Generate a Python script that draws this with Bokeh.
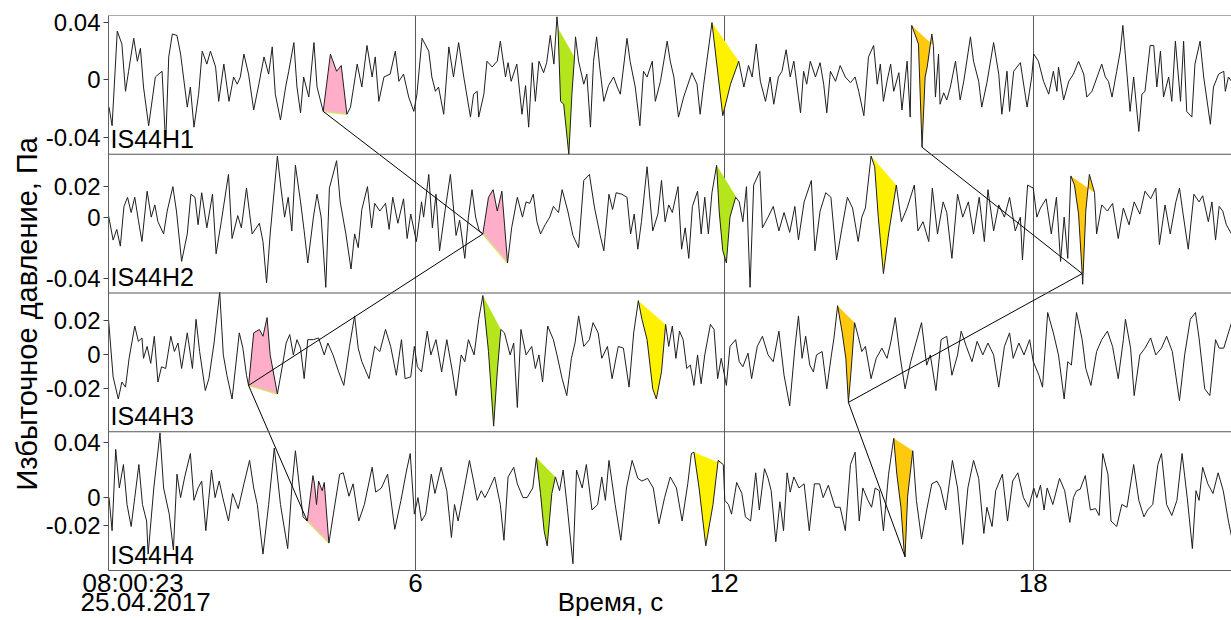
import numpy as np
from bokeh.plotting import figure
from bokeh.models import Range1d, FixedTicker, Span, Label, Title
from bokeh.embed import file_html
from bokeh.resources import INLINE

FONT = "Liberation Sans"

STATIONS = ["IS44H1", "IS44H2", "IS44H3", "IS44H4"]

# ---- overpressure records: time (s after 08:00:23) and value (mPa) ----
T1 = [0.05, 0.11, 0.21, 0.30, 0.37, 0.43, 0.53, 0.60, 0.66, 0.72, 0.82, 0.95, 1.08, 1.15, 1.21, 1.28, 1.37, 1.44,
      1.57, 1.63, 1.70, 1.79, 1.86, 1.95, 2.02, 2.12, 2.18, 2.28, 2.38, 2.47, 2.54, 2.60, 2.67, 2.76, 2.86, 2.96,
      3.06, 3.15, 3.22, 3.28, 3.38, 3.48, 3.54, 3.64, 3.70, 3.77, 3.83, 3.93, 4.03, 4.09, 4.21, 4.35, 4.47, 4.56,
      4.67, 4.74, 4.87, 4.96, 5.06, 5.16, 5.22, 5.29, 5.39, 5.51, 5.61, 5.68, 5.77, 5.87, 5.97, 6.03, 6.13, 6.26,
      6.32, 6.39, 6.45, 6.55, 6.65, 6.74, 6.84, 6.94, 7.07, 7.13, 7.20, 7.23, 7.33, 7.39, 7.49, 7.59, 7.65, 7.75,
      7.80, 7.86, 7.97, 8.07, 8.14, 8.20, 8.27, 8.33, 8.40, 8.49, 8.55, 8.62, 8.69, 8.75, 8.77, 8.82, 8.88, 8.98,
      9.04, 9.09, 9.11, 9.17, 9.27, 9.33, 9.40, 9.46, 9.52, 9.58, 9.66, 9.75, 9.85, 9.92, 9.98, 10.11, 10.17,
      10.27, 10.36, 10.43, 10.50, 10.60, 10.66, 10.76, 10.89, 10.95, 11.02, 11.11, 11.21, 11.37, 11.47, 11.53,
      11.60, 11.66, 11.76, 11.97, 12.12, 12.28, 12.38, 12.47, 12.54, 12.62, 12.70, 12.80, 12.89, 12.96, 13.05,
      13.12, 13.20, 13.28, 13.35, 13.48, 13.54, 13.60, 13.67, 13.77, 13.86, 13.93, 13.99, 14.06, 14.16, 14.25,
      14.35, 14.45, 14.54, 14.61, 14.71, 14.80, 14.90, 14.97, 15.03, 15.09, 15.16, 15.23, 15.29, 15.39, 15.45,
      15.55, 15.61, 15.64, 15.77, 15.84, 15.90, 15.94, 16.03, 16.06, 16.10, 16.16, 16.19, 16.26, 16.32, 16.39,
      16.49, 16.58, 16.65, 16.78, 16.84, 16.94, 17.00, 17.10, 17.23, 17.33, 17.39, 17.49, 17.54, 17.62, 17.75,
      17.88, 17.97, 18.01, 18.10, 18.20, 18.30, 18.39, 18.46, 18.49, 18.59, 18.69, 18.78, 18.88, 18.98, 19.04,
      19.14, 19.24, 19.33, 19.40, 19.46, 19.53, 19.62, 19.69, 19.74, 19.82, 19.88, 19.95, 20.05, 20.11, 20.17,
      20.27, 20.34, 20.40, 20.47, 20.53, 20.63, 20.69, 20.76, 20.86, 20.92, 20.98, 21.08, 21.14, 21.24, 21.31,
      21.44, 21.50, 21.60, 21.70, 21.73, 21.79, 21.85]
V1 = [-19, -32, 34, 25, -8, 6, 29, 13, 22, -5, -32, 2, 6, -45, 16, 32, 31, 18,
      -19, -5, -33, -10, 20, 11, 20, 9, -15, 11, -15, 2, -3, 2, 18, 4, -21, -3,
      16, 4, 23, -10, -28, -5, 6, 26, -5, -23, 2, -12, 26, -5, -22, 18, 6, 10,
      -24, -19, 11, -5, 24, 2, 16, -15, 2, 4, 20, -1, 4, -12, -22, -10, 29, 20,
      2, -8, -5, -24, 23, 2, 26, 2, -26, -10, -8, -26, -10, 13, 9, 13, 27, 2,
      12, -1, 11, -24, -4, -33, 12, -15, 13, 5, 12, 31, 11, 44, 36, -15, -17, -52,
      -10, 16, 30, 13, -3, 4, -33, 13, 30, 9, -15, -4, 2, -5, -10, 29, 13,
      -5, -32, 6, 2, 13, -15, -1, 27, 13, 2, -26, -12, 5, -3, -24,
      -3, 13, 40, -25, -3, 13, -5, 10, 2, 25, -1, -15, 2, -17, 2,
      6, 21, 2, 13, -23, 6, -3, 13, 2, 12, -3, -23, 6, -1, 10,
      2, -2, 2, -8, -25, 16, 24, -3, 11, -15, -1, 11, -8, 5, -21,
      13, -26, 38, 25, -47, 2, 9, 32, 24, -12, 18, -17, -9, -14, -5,
      13, -14, -1, 30, 13, -1, -19, -2, 26, 4, -24, 6, -22, 6, 12,
      -19, 2, 18, 13, -1, -10, 6, -8, 9, -14, -1, 4, 13, 4, -12,
      -8, 2, 11, 2, -1, -12, 6, 20, 38, 4, -22, 2, -36, -10, -8,
      24, 24, -5, 20, -12, 2, -15, 27, -15, 27, -22, -26, 11, 27, 2,
      -31, -5, 4, 6, -8, 2, -1]

T2 = [0.04, 0.13, 0.20, 0.27, 0.34, 0.41, 0.48, 0.55, 0.62, 0.69, 0.79, 0.87, 0.94, 1.00, 1.11, 1.18, 1.29, 1.36,
      1.46, 1.57, 1.64, 1.72, 1.78, 1.85, 1.95, 2.06, 2.13, 2.23, 2.37, 2.44, 2.55, 2.62, 2.72, 2.83, 2.97, 3.04,
      3.11, 3.18, 3.32, 3.39, 3.46, 3.53, 3.60, 3.67, 3.77, 3.84, 3.91, 4.02, 4.09, 4.17, 4.26, 4.33, 4.47, 4.54,
      4.65, 4.75, 4.82, 4.89, 4.96, 5.07, 5.15, 5.21, 5.31, 5.42, 5.49, 5.56, 5.66, 5.77, 5.84, 5.91, 6.02, 6.12,
      6.16, 6.26, 6.33, 6.40, 6.47, 6.58, 6.68, 6.79, 6.86, 6.96, 7.03, 7.10, 7.17, 7.24, 7.31, 7.42, 7.51, 7.59,
      7.68, 7.79, 7.87, 7.98, 8.08, 8.15, 8.22, 8.29, 8.36, 8.43, 8.52, 8.61, 8.68, 8.78, 8.85, 8.96, 9.06, 9.17,
      9.27, 9.38, 9.48, 9.59, 9.66, 9.76, 9.83, 9.90, 10.01, 10.11, 10.18, 10.25, 10.32, 10.39, 10.50, 10.61,
      10.71, 10.78, 10.85, 10.92, 10.99, 11.10, 11.17, 11.24, 11.31, 11.38, 11.48, 11.55, 11.62, 11.69, 11.76,
      11.85, 11.90, 11.97, 12.04, 12.11, 12.22, 12.29, 12.36, 12.43, 12.50, 12.57, 12.69, 12.74, 12.85, 12.95,
      13.06, 13.16, 13.27, 13.37, 13.44, 13.55, 13.69, 13.76, 13.86, 13.97, 14.07, 14.18, 14.28, 14.39, 14.49,
      14.60, 14.67, 14.74, 14.85, 14.92, 14.99, 15.09, 15.19, 15.34, 15.44, 15.55, 15.69, 15.76, 15.86, 15.97,
      16.04, 16.14, 16.25, 16.32, 16.42, 16.53, 16.63, 16.74, 16.84, 16.95, 17.05, 17.12, 17.23, 17.33, 17.44,
      17.54, 17.65, 17.75, 17.79, 17.89, 18.00, 18.07, 18.14, 18.25, 18.35, 18.45, 18.53, 18.60, 18.67, 18.73,
      18.80, 18.88, 18.95, 18.96, 19.02, 19.09, 19.19, 19.23, 19.33, 19.44, 19.54, 19.65, 19.75, 19.86, 19.96,
      20.07, 20.17, 20.28, 20.38, 20.45, 20.56, 20.66, 20.77, 20.84, 20.91, 21.01, 21.12, 21.22, 21.29, 21.40,
      21.47, 21.54, 21.61, 21.68, 21.75, 21.85]
V2 = [1, -15, -8, -19, 7, 13, 3, 13, -2, -16, 17, 0, 8, -3, -11, 4, 20, 4,
      -29, -11, 15, 13, -5, 16, -7, 15, -24, -3, 28, -14, 1, -7, 19, -11, -4, -16,
      -43, -11, 40, 19, 0, 13, -9, 34, 10, -9, -30, 0, 15, 0, -46, 19, 37, 10,
      -11, -34, -11, -20, 5, 20, -7, 9, 4, 9, -8, 13, -4, 12, -14, 2, -16, 10,
      0, 28, -7, 15, -22, 5, 28, -12, -2, -27, 0, 18, 0, -9, -11, 13, 18, 4,
      17, -30, -7, 13, 0, 10, 9, 15, -3, -11, -5, 0, 7, 3, 18, 4, -12, -20,
      24, 28, 6, -12, -22, 15, 5, 16, 15, 13, -11, 2, -21, -3, 33, -9,
      2, 24, -3, 8, 3, 20, -21, -7, -27, 7, 17, -11, 13, -11, 16,
      34, 4, -22, -30, 0, 13, 10, -3, 20, -46, 21, 30, -7, 0, 7,
      -9, 3, -10, 7, -15, 10, 24, -22, 4, 16, 13, -28, -8, 13, 6,
      -16, 0, 6, 40, 33, 0, -37, -11, 21, -3, 6, 21, -9, -3, -16,
      19, -11, 10, 3, -27, 15, 0, 10, -11, 13, -16, 18, -9, 8, 0,
      13, -9, 0, -28, 21, 19, 0, 6, 12, -11, 13, -29, 0, -27, 27,
      21, 2, -37, -44, 4, 28, 16, -11, 8, 4, 9, -14, 6, -5, 10,
      2, 17, 12, 19, -18, 8, -11, 10, 19, 2, -21, 15, 10, 14, -3,
      10, -15, 7, 4, -5, -11]

T3 = [0.04, 0.13, 0.23, 0.30, 0.37, 0.44, 0.55, 0.62, 0.69, 0.72, 0.79, 0.86, 0.93, 1.00, 1.07, 1.15, 1.25, 1.32,
      1.39, 1.46, 1.57, 1.67, 1.74, 1.81, 1.92, 1.99, 2.09, 2.20, 2.27, 2.34, 2.44, 2.58, 2.65, 2.72, 2.76, 2.86,
      2.97, 3.04, 3.12, 3.18, 3.32, 3.42, 3.49, 3.56, 3.63, 3.70, 3.77, 3.84, 3.91, 4.02, 4.12, 4.23, 4.30, 4.40,
      4.51, 4.61, 4.72, 4.82, 4.89, 4.96, 5.10, 5.21, 5.31, 5.42, 5.52, 5.63, 5.73, 5.80, 5.91, 5.98, 6.04, 6.12,
      6.23, 6.30, 6.40, 6.51, 6.61, 6.72, 6.79, 6.89, 6.96, 7.03, 7.14, 7.23, 7.31, 7.42, 7.52, 7.59, 7.66, 7.73,
      7.84, 7.91, 7.98, 8.05, 8.15, 8.26, 8.33, 8.40, 8.47, 8.57, 8.68, 8.75, 8.85, 8.94, 9.03, 9.10, 9.17, 9.27,
      9.38, 9.45, 9.55, 9.62, 9.73, 9.82, 9.94, 10.04, 10.15, 10.24, 10.33, 10.40, 10.50, 10.61, 10.68, 10.78,
      10.86, 10.92, 10.99, 11.06, 11.13, 11.20, 11.27, 11.34, 11.41, 11.48, 11.55, 11.62, 11.73, 11.80, 11.87,
      11.94, 12.04, 12.11, 12.22, 12.29, 12.36, 12.46, 12.53, 12.64, 12.74, 12.85, 12.95, 13.06, 13.16, 13.27,
      13.37, 13.44, 13.51, 13.58, 13.66, 13.73, 13.79, 13.90, 13.99, 14.08, 14.13, 14.20, 14.29, 14.36, 14.41,
      14.46, 14.53, 14.60, 14.67, 14.74, 14.85, 14.95, 15.06, 15.16, 15.23, 15.32, 15.41, 15.51, 15.62, 15.72,
      15.83, 15.93, 16.00, 16.11, 16.21, 16.32, 16.42, 16.53, 16.60, 16.70, 16.81, 16.91, 17.02, 17.12, 17.23,
      17.33, 17.44, 17.54, 17.61, 17.72, 17.82, 17.93, 18.00, 18.11, 18.18, 18.28, 18.39, 18.49, 18.60, 18.67,
      18.74, 18.84, 18.95, 19.02, 19.12, 19.23, 19.33, 19.44, 19.54, 19.65, 19.75, 19.79, 19.89, 19.96, 20.07,
      20.17, 20.28, 20.38, 20.49, 20.59, 20.70, 20.84, 20.94, 21.05, 21.15, 21.22, 21.33, 21.43, 21.54, 21.61,
      21.70, 21.85]
V3 = [21, -13, -26, -16, -19, -2, 17, 8, 10, -2, 5, -5, 11, -16, -7, -8, 11, 2,
      7, -8, 13, -8, 21, 2, -21, -14, 7, 37, 0, -12, -26, 13, 4, -12, -18, 13,
      15, 11, 22, 0, -23, -6, 7, 12, 0, 9, 4, -14, 9, 9, 10, 0, 7, 0,
      -10, -18, 5, 23, 4, -4, -14, 5, 2, 15, 5, -12, 9, -14, -13, 5, -7, -10,
      14, 0, 9, -10, 9, -10, -24, 0, -4, 9, 0, 21, 35, 2, -42, -10, 15, 13,
      0, 7, -31, 15, 0, 5, -8, 0, -16, 17, 9, 0, -14, -24, -2, 7, 23, 5,
      9, 19, 13, -2, 5, -14, 5, 4, -19, 13, 32, 21, 9, -20, -26, -10,
      18, 5, 17, -2, 14, 9, -8, -6, -18, 0, -17, 0, 18, 15, -14,
      -2, -18, 5, 9, -4, -7, 1, -14, 5, 11, 0, -4, 14, -12, -30,
      4, 23, -2, 11, -6, -10, 0, 2, -20, 0, 10, 29, 13, -2, -28,
      -10, 19, 11, 2, 5, -14, -2, 4, -2, 7, 22, 0, -20, -4, 7,
      19, -6, 0, -21, 9, 11, -12, 0, 14, 5, -4, 8, 0, 7, 0,
      -19, 5, 13, -2, 7, 0, 9, -4, -12, -19, 25, 13, 0, -26, -4,
      -6, 25, 9, -8, -18, 2, 9, 14, 5, -14, 9, 21, 4, -24, 0,
      4, 10, 0, 4, 11, 2, -27, 0, 21, 25, 10, -20, -24, 9, 4,
      4, 19]

T4 = [0.05, 0.11, 0.18, 0.25, 0.33, 0.40, 0.48, 0.55, 0.63, 0.70, 0.78, 0.81, 0.92, 1.04, 1.11, 1.22, 1.30, 1.37,
      1.44, 1.52, 1.63, 1.70, 1.78, 1.85, 1.93, 2.04, 2.11, 2.19, 2.26, 2.37, 2.45, 2.56, 2.67, 2.78, 2.86, 2.93,
      3.04, 3.15, 3.26, 3.38, 3.52, 3.60, 3.67, 3.75, 3.82, 3.90, 4.01, 4.04, 4.08, 4.12, 4.19, 4.23, 4.32, 4.42,
      4.53, 4.60, 4.71, 4.79, 4.90, 5.01, 5.16, 5.23, 5.34, 5.46, 5.60, 5.72, 5.83, 5.90, 5.98, 6.05, 6.12, 6.20,
      6.31, 6.38, 6.50, 6.61, 6.70, 6.76, 6.83, 6.94, 7.05, 7.13, 7.20, 7.28, 7.35, 7.42, 7.54, 7.65, 7.72, 7.80,
      7.91, 7.98, 8.09, 8.17, 8.28, 8.35, 8.43, 8.50, 8.56, 8.65, 8.72, 8.80, 8.87, 8.95, 9.06, 9.13, 9.24, 9.32,
      9.43, 9.54, 9.62, 9.69, 9.76, 9.88, 9.99, 10.10, 10.21, 10.32, 10.40, 10.51, 10.62, 10.73, 10.84, 10.95,
      11.07, 11.18, 11.29, 11.36, 11.41, 11.51, 11.64, 11.78, 11.88, 11.98, 12.01, 12.08, 12.14, 12.24, 12.34,
      12.41, 12.51, 12.61, 12.68, 12.78, 12.85, 12.91, 13.00, 13.08, 13.15, 13.22, 13.28, 13.35, 13.45, 13.55,
      13.65, 13.75, 13.85, 13.92, 14.02, 14.15, 14.25, 14.35, 14.45, 14.54, 14.62, 14.69, 14.79, 14.86, 14.93,
      15.01, 15.09, 15.19, 15.29, 15.35, 15.43, 15.49, 15.51, 15.56, 15.66, 15.73, 15.83, 15.93, 16.03, 16.13,
      16.20, 16.30, 16.43, 16.53, 16.63, 16.73, 16.84, 16.94, 17.04, 17.10, 17.20, 17.27, 17.40, 17.50, 17.60,
      17.70, 17.81, 17.91, 18.01, 18.07, 18.14, 18.21, 18.27, 18.38, 18.51, 18.61, 18.71, 18.78, 18.84, 18.91,
      19.01, 19.11, 19.21, 19.28, 19.35, 19.45, 19.51, 19.62, 19.72, 19.82, 19.95, 20.05, 20.15, 20.22, 20.32,
      20.42, 20.49, 20.59, 20.69, 20.79, 20.89, 20.99, 21.09, 21.16, 21.22, 21.29, 21.39, 21.49, 21.59, 21.69,
      21.79, 21.85]
V4 = [0, -24, 35, 7, 24, -5, -21, 0, 24, -5, -17, -41, 7, 47, 7, -12, -38, 17,
      0, 15, 32, -2, 7, 12, -24, 20, 0, 12, 0, -17, 3, -8, 10, 27, 7, -5,
      -41, -5, 36, -5, -37, 7, 34, 7, -14, -17, 16, 10, -5, 12, 5, 11, -33, -9,
      17, 18, 1, 10, -17, -5, 22, 4, 7, 17, -23, -2, 20, 32, -12, 0, -17, -12,
      17, 3, 22, 5, -29, -5, -17, 5, 27, 12, -2, 5, 0, 5, 15, -5, -31, 15,
      22, 10, 0, 0, 7, 29, 3, -24, -35, 3, 15, 5, 20, -7, -48, 20, 7, 24,
      -9, -5, 15, -2, 27, -5, -31, 7, 27, 14, 12, 14, 7, -19, 0, 15,
      7, -17, 10, 32, 33, 7, -35, -5, 27, 24, -2, -5, -12, 11, 3,
      -14, -17, 18, -9, 21, 14, 5, -32, -3, -24, 18, 4, 15, 7, 10,
      -24, 10, 10, 0, 9, -7, -7, -24, 24, 33, -17, 7, -2, -7, 7,
      5, -24, 17, 43, 17, -7, -38, -43, 1, 34, -2, -30, -9, 10, 12,
      7, -9, 27, 7, -34, 7, 27, 14, -26, -7, -21, 5, 17, -17, 12,
      18, 0, -7, 7, 0, 9, -9, 7, -5, 14, 5, -18, 0, 5, 6,
      16, -9, -8, -13, 32, 17, -17, -21, -5, -7, 24, -2, -14, -9, -5,
      24, 32, -5, -13, -2, 32, 0, -37, 5, -2, 22, 10, 3, 18, 5,
      -17, -28]

# vertical scale of each record, mPa (bottom, top) and its labelled ticks, Pa
PANEL_LO = [-51.9, -49.7, -45.3, -52.9]
PANEL_HI = [44.9, 41.2, 36.5, 47.8]
PANEL_TICKS = [[0.04, 0.0, -0.04], [0.02, 0.0, -0.04], [0.02, 0.0, -0.02], [0.04, 0.0, -0.02]]

# identified wave groups: fill colour and (start, end) time window on each record
PHASE_COLORS = ["#ffaec9", "#b5e61d", "#fff200", "#ffc90e"]
PHASE_WINDOWS = [
    [(4.21, 4.67), (7.31, 7.79), (2.76, 3.32), (3.90, 4.32)],
    [(8.77, 9.09), (11.85, 12.29), (7.31, 7.66), (8.35, 8.72)],
    [(11.76, 12.28), (14.85, 15.34), (10.33, 10.86), (11.41, 11.98)],
    [(15.64, 16.06), (18.73, 19.19), (14.20, 14.53), (15.29, 15.66)],
]
# arrival picks joined from record to record
PINK_PICKS = [4.21, 7.31, 2.76, 3.90]
ORANGE_PICKS = [15.84, 18.95, 14.41, 15.51]

X_TICKS = [6, 12, 18]
X_START, X_END = 0.04, 21.85
# time-axis captions: record start time, date and axis title (placed on the axis rows)
START_TIME, START_DATE, X_TITLE = "08:00:23", "25.04.2017", "Время, с"
START_TIME_AT, START_DATE_AT, X_TITLE_AT = 0.52, 0.76, 9.79

TIMES = [T1, T2, T3, T4]
VALUES = [V1, V2, V3, V4]

# ---- canvas geometry ----
W, H = 1231, 620
LEFT, TOP, BOTTOM = 108, 15, 50


def stack(i, mpa):
    """value in mPa on record i -> stacked-panel coordinate"""
    mpa = np.asarray(mpa, dtype=float)
    return (3 - i) + (mpa - PANEL_LO[i]) / (PANEL_HI[i] - PANEL_LO[i])


p = figure(width=W, height=H, x_range=Range1d(X_START, X_END), y_range=Range1d(0, 4),
           output_backend="svg", toolbar_location=None,
           min_border_left=LEFT, min_border_right=0, min_border_top=TOP, min_border_bottom=BOTTOM)
p.outline_line_color = None
p.background_fill_color = "white"
p.border_fill_color = "white"

# y axis: labelled ticks of every record on one stacked axis
ytick_pos, ytick_lab = [], {}
for i, ticks in enumerate(PANEL_TICKS):
    for tv in ticks:
        pos = round(float(stack(i, tv * 1000.0)), 6)
        ytick_pos.append(pos)
        ytick_lab[pos] = "0" if tv == 0 else ("%.2f" % tv)
p.yaxis.ticker = FixedTicker(ticks=ytick_pos)
p.yaxis.major_label_overrides = ytick_lab
p.yaxis.minor_tick_line_color = None
p.yaxis.major_tick_in = 0
p.yaxis.major_tick_out = 5
p.yaxis.major_tick_line_color = "#404040"
p.yaxis.axis_line_color = "#606060"
p.yaxis.major_label_text_font = FONT
p.yaxis.major_label_text_font_size = "24px"
p.yaxis.major_label_text_color = "black"
p.yaxis.major_label_standoff = 3

# x axis: numeric ticks plus the start time/date and the axis caption on the label rows
p.xaxis.ticker = FixedTicker(ticks=X_TICKS + [START_TIME_AT, START_DATE_AT, X_TITLE_AT])
p.xaxis.major_label_overrides = {START_TIME_AT: START_TIME,
                                 START_DATE_AT: "\n" + START_DATE,
                                 X_TITLE_AT: "\n" + X_TITLE}
p.xaxis.minor_tick_line_color = None
p.xaxis.major_tick_line_color = None
p.xaxis.major_tick_in = 0
p.xaxis.major_tick_out = 0
p.xaxis.axis_line_color = "#606060"
p.xaxis.major_label_text_font = FONT
p.xaxis.major_label_text_font_size = "26px"
p.xaxis.major_label_text_line_height = 0.65
p.xaxis.major_label_text_color = "black"
p.xaxis.major_label_standoff = -3

p.add_layout(Title(text="Избыточное давление, Па", align="left", offset=80, standoff=0,
                   text_font=FONT, text_font_size="29px", text_font_style="normal",
                   text_color="black"), "left")

p.xgrid.ticker = FixedTicker(ticks=X_TICKS)
p.xgrid.grid_line_color = "#5a5a5a"
p.xgrid.grid_line_alpha = 1.0
p.ygrid.grid_line_color = None

for k in range(1, 5):
    p.add_layout(Span(location=k, dimension="width", line_color="#555555", line_width=1))

# wave-group fills (closed by the chord from first to last sample)
for color, windows in zip(PHASE_COLORS, PHASE_WINDOWS):
    for i, (t0, t1) in enumerate(windows):
        t = np.asarray(TIMES[i])
        v = np.asarray(VALUES[i])
        m = (t >= t0 - 1e-6) & (t <= t1 + 1e-6)
        p.patch(t[m], stack(i, v[m]), fill_color=color, line_color=None)
        if color == PHASE_COLORS[0]:
            p.line([t[m][0], t[m][-1]], stack(i, [v[m][0], v[m][-1]]),
                   line_color="#d8e070", line_width=1.5)

# records
for i in range(4):
    p.line(TIMES[i], stack(i, VALUES[i]), line_color="#1e1e1e", line_width=1)

# move-out lines between picked arrivals
for picks in (PINK_PICKS, ORANGE_PICKS):
    ys = [float(stack(i, np.interp(tp, TIMES[i], VALUES[i]))) for i, tp in enumerate(picks)]
    p.line(picks, ys, line_color="black", line_width=1)

# record names
for i, name in enumerate(STATIONS):
    p.add_layout(Label(x=X_START + 0.04, y=(3 - i) + 0.012, text=name, text_font=FONT,
                       text_font_size="25px", text_color="black", text_baseline="bottom"))

with open("out.html", "w") as f:
    f.write(file_html(p, INLINE))
